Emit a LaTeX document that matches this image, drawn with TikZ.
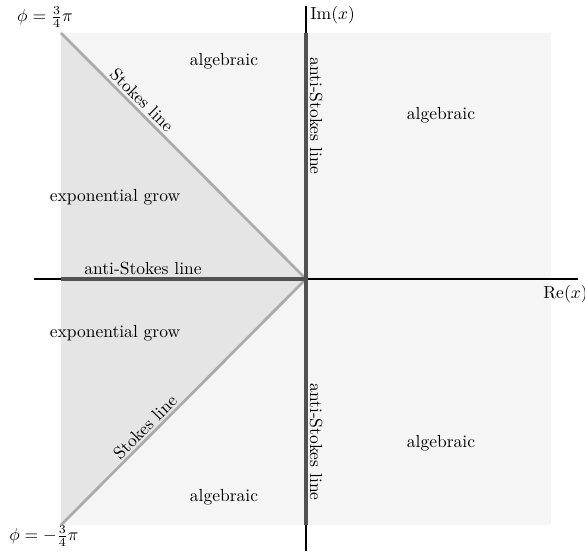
\documentclass[tikz,border=0pt]{standalone}
\begin{document}
\begin{tikzpicture}[x=0.571pt,y=-0.571pt,
  lbl/.style={inner sep=0pt},
  axis/.style={draw=black,line width=0.7pt},
  antistokes/.style={draw=black!68,line width=1.75pt},
  stokesln/.style={draw=black!33,line width=1.55pt}]
\useasboundingbox (0,0) rectangle (585,555);
\fill[black!4] (61,33) rectangle (551,525);
\fill[black!10] (61,33) -- (306,279) -- (61,525) -- cycle;
\coordinate (O) at (306,279);
\coordinate (TL) at (61,33);
\coordinate (BL) at (61,525);
\coordinate (L) at (61,279);
\coordinate (T) at (306,33);
\coordinate (B) at (306,525);
\coordinate (xl) at (34,279);
\coordinate (xr) at (578,279);
\coordinate (yt) at (306,6);
\coordinate (yb) at (306,551);
\draw[axis] (xl) -- (xr);
\draw[axis] (yt) -- (yb);
\draw[stokesln] (TL) -- (O);
\draw[stokesln] (BL) -- (O);
\draw[antistokes] (L) -- (O);
\draw[antistokes] (T) -- (B);
\node[lbl] (p1) at (45,17) {$\phi=\frac{3}{4}\pi$};
\node[lbl] (p2) at (44,536) {$\phi=-\frac{3}{4}\pi$};
\node[lbl,anchor=west] (im) at (310,15) {$\mathrm{Im}(x)$};
\node[lbl,anchor=west] (re) at (543,294) {$\mathrm{Re}(x)$};
\node[lbl] (a1) at (224,61) {algebraic};
\node[lbl] (a2) at (441,115) {algebraic};
\node[lbl] (a3) at (441,443) {algebraic};
\node[lbl] (a4) at (224,497) {algebraic};
\node[lbl] (e1) at (115,197) {exponential grow};
\node[lbl] (e2) at (115,333) {exponential grow};
\node[lbl] (ash) at (143,269) {anti-Stokes line};
\node[lbl,rotate=-45] (s1) at (142,100) {Stokes line};
\node[lbl,rotate=45] (s2) at (145,427) {Stokes line};
\node[lbl,rotate=-90] (av1) at (316,116) {anti-Stokes line};
\node[lbl,rotate=-90] (av2) at (316,442) {anti-Stokes line};
\end{tikzpicture}
\end{document}
